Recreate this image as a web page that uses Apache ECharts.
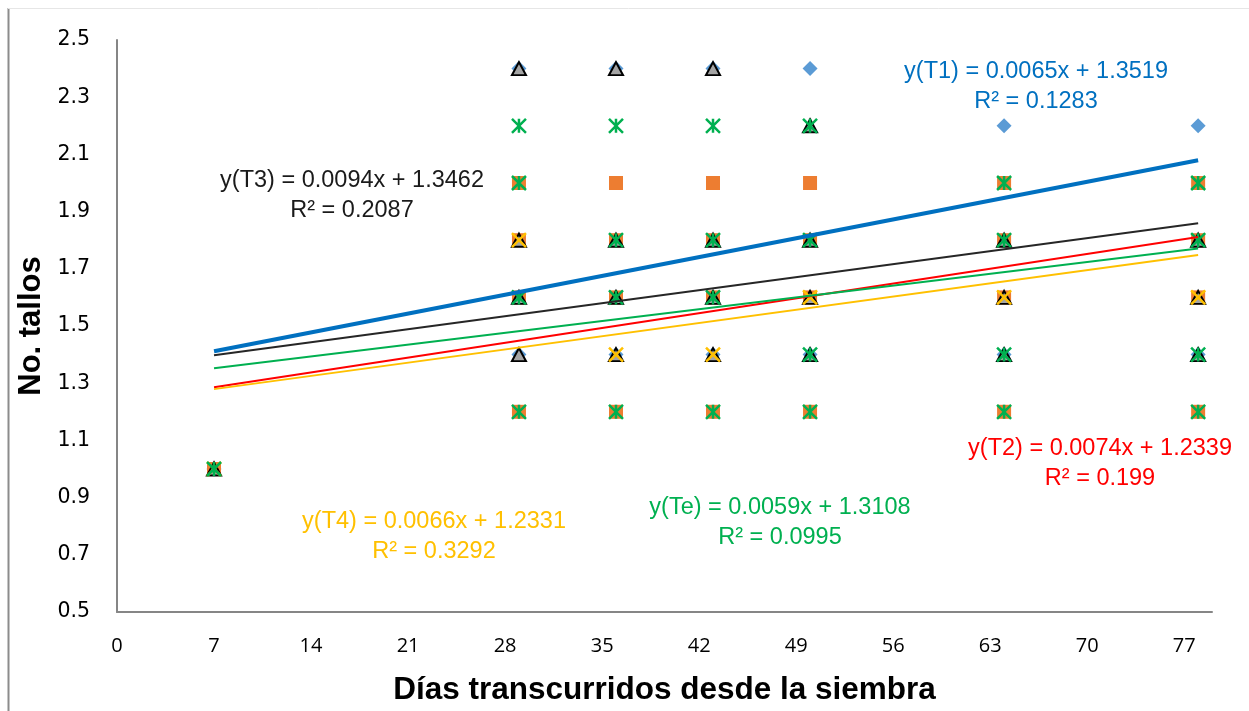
<!DOCTYPE html>
<html>
<head>
<meta charset="utf-8">
<script src="https://cdn.jsdelivr.net/npm/echarts@6/dist/echarts.min.js"></script>
<style>
  html, body { margin: 0; padding: 0; background: #ffffff; }
  #chart { width: 1249px; height: 711px; }
</style>
</head>
<body>
<div id="chart"></div>
<script>
// Sampling days and axis tick labels
const days = [7, 29, 36, 43, 50, 64, 78];
const xTickLabels = [0, 7, 14, 21, 28, 35, 42, 49, 56, 63, 70, 77];
const yTickLabels = ['0.5', '0.7', '0.9', '1.1', '1.3', '1.5', '1.7', '1.9', '2.1', '2.3', '2.5'];

// Observed stems per plant: [day, number of stems]
const t1Points = [[7, 1.0], [29, 2.4], [29, 1.4], [36, 2.4], [36, 1.4], [43, 2.4], [43, 1.4],
  [50, 2.4], [50, 1.4], [64, 2.2], [64, 1.4], [78, 2.2], [78, 1.4]];
const t2Points = [[7, 1.0], [29, 2.0], [29, 1.8], [29, 1.6], [29, 1.2], [36, 2.0], [36, 1.8], [36, 1.6], [36, 1.2],
  [43, 2.0], [43, 1.8], [43, 1.6], [43, 1.2], [50, 2.0], [50, 1.8], [50, 1.6], [50, 1.2],
  [64, 2.0], [64, 1.8], [64, 1.6], [64, 1.2], [78, 2.0], [78, 1.8], [78, 1.6], [78, 1.2]];
const t3Points = [[7, 1.0], [29, 2.4], [29, 1.8], [29, 1.6], [29, 1.4], [36, 2.4], [36, 1.8], [36, 1.6], [36, 1.4],
  [43, 2.4], [43, 1.8], [43, 1.6], [43, 1.4], [50, 2.2], [50, 1.8], [50, 1.6], [50, 1.4],
  [64, 1.8], [64, 1.6], [64, 1.4], [78, 1.8], [78, 1.6], [78, 1.4]];
const t4Points = [[7, 1.0], [29, 1.8], [36, 1.4], [43, 1.4], [50, 1.6], [64, 1.6], [78, 1.6]];
const tePoints = [[7, 1.0], [29, 2.2], [29, 2.0], [29, 1.6], [29, 1.2], [36, 2.2], [36, 1.8], [36, 1.6], [36, 1.2],
  [43, 2.2], [43, 1.8], [43, 1.6], [43, 1.2], [50, 2.2], [50, 1.8], [50, 1.4], [50, 1.2],
  [64, 2.0], [64, 1.8], [64, 1.4], [64, 1.2], [78, 2.0], [78, 1.8], [78, 1.4], [78, 1.2]];

// Linear fits (y = slope * x + intercept) and their R²
const fitNames = ['T1', 'T2', 'T3', 'T4', 'Te'];
const fitSlopes = [0.0065, 0.0074, 0.0094, 0.0066, 0.0059];
const fitIntercepts = [1.3519, 1.2339, 1.3462, 1.2331, 1.3108];
const fitR2 = ['0.1283', '0.199', '0.2087', '0.3292', '0.0995'];

// Styling for each fit: line colour/width, label colour and label anchor (px)
const fitStyle = {
  T1: { line: '#262626', width: 2, text: '#0070C0', at: [1036, 72] },
  T2: { line: '#FF0000', width: 2, text: '#FF0000', at: [1100, 449] },
  T3: { line: '#0070C0', width: 4, text: '#1a1a1a', at: [352, 181] },
  T4: { line: '#FFC000', width: 2, text: '#FFC000', at: [434, 522] },
  Te: { line: '#00B050', width: 2, text: '#00B050', at: [780, 508] }
};

const chart = echarts.init(document.getElementById('chart'), null, { renderer: 'canvas' });

const xFirst = days[0];
const xLast = days[days.length - 1];

const fitSeries = fitNames.map((name, i) => ({
  name: 'fit ' + name,
  type: 'line',
  data: [
    [xFirst, fitSlopes[i] * xFirst + fitIntercepts[i]],
    [xLast, fitSlopes[i] * xLast + fitIntercepts[i]]
  ],
  showSymbol: false,
  symbol: 'none',
  silent: true,
  lineStyle: { color: fitStyle[name].line, width: fitStyle[name].width },
  z: 3
}));

const eqFont = '23.5px "Liberation Sans", Arial, sans-serif';
const eqTexts = [];
fitNames.forEach((name, i) => {
  const s = fitStyle[name];
  eqTexts.push({
    type: 'text', x: s.at[0], y: s.at[1], silent: true,
    style: {
      text: 'y(' + name + ') = ' + fitSlopes[i].toFixed(4) + 'x + ' + fitIntercepts[i].toFixed(4),
      fill: s.text, font: eqFont,
      align: 'center', verticalAlign: 'middle', textAlign: 'center', textVerticalAlign: 'middle'
    }
  });
  eqTexts.push({
    type: 'text', x: s.at[0], y: s.at[1] + 30, silent: true,
    style: {
      text: 'R² = ' + fitR2[i],
      fill: s.text, font: eqFont,
      align: 'center', verticalAlign: 'middle', textAlign: 'center', textVerticalAlign: 'middle'
    }
  });
});

const scatterBase = { type: 'scatter', silent: true, emphasis: { disabled: true }, z: 2 };

const option = {
  backgroundColor: '#ffffff',
  animation: false,
  grid: { left: 117, right: 37, top: 40, bottom: 98, containLabel: false },
  xAxis: {
    type: 'value', min: 0, max: 79, interval: 7,
    axisLine: { show: true, lineStyle: { color: '#868686', width: 2 } },
    axisTick: { show: false },
    splitLine: { show: false },
    axisLabel: {
      margin: 24, color: '#000', fontSize: 20, fontFamily: '"Open Sans", sans-serif',
      formatter: v => (xTickLabels.indexOf(Math.round(v)) >= 0 && Math.abs(v - Math.round(v)) < 1e-6) ? String(Math.round(v)) : ''
    },
    name: 'Días transcurridos desde la siembra',
    nameLocation: 'middle', nameGap: 62,
    nameTextStyle: { color: '#000', fontSize: 31.5, fontWeight: 'bold', fontFamily: '"Liberation Sans", Arial, sans-serif' }
  },
  yAxis: {
    type: 'value', min: 0.5, max: 2.5, interval: 0.2,
    axisLine: { show: true, lineStyle: { color: '#868686', width: 2 } },
    axisTick: { show: false },
    splitLine: { show: false },
    axisLabel: {
      margin: 27, color: '#000', fontSize: 20.5, fontFamily: '"DejaVu Sans", sans-serif',
      formatter: v => yTickLabels[Math.round((v - 0.5) / 0.2)] || ''
    },
    name: 'No. tallos',
    nameLocation: 'middle', nameGap: 65, nameRotate: 90,
    nameTextStyle: { color: '#000', fontSize: 31, fontWeight: 'bold', fontFamily: '"Liberation Sans", Arial, sans-serif' }
  },
  graphic: [
    { type: 'line', silent: true, shape: { x1: 8.5, y1: 8, x2: 8.5, y2: 711 }, style: { stroke: '#8c8c8c', lineWidth: 2 } },
    { type: 'line', silent: true, shape: { x1: 8, y1: 8.5, x2: 1249, y2: 8.5 }, style: { stroke: '#e6e6e6', lineWidth: 1 } }
  ].concat(eqTexts),
  series: [
    Object.assign({}, scatterBase, {
      name: 'T1', data: t1Points, symbol: 'diamond', symbolSize: 15,
      itemStyle: { color: '#5B9BD5', opacity: 1 }
    }),
    Object.assign({}, scatterBase, {
      name: 'T2', data: t2Points, symbol: 'rect', symbolSize: 14,
      itemStyle: { color: '#ED7D31', opacity: 1 }
    }),
    Object.assign({}, scatterBase, {
      name: 'T3', data: t3Points, symbol: 'triangle', symbolSize: [14, 13],
      itemStyle: { color: '#A5A5A5', borderColor: '#000000', borderWidth: 2, opacity: 1 }
    }),
    Object.assign({}, scatterBase, {
      name: 'T4', data: t4Points, symbol: 'path://M0,0L10,10M10,0L0,10', symbolSize: 14,
      itemStyle: { color: 'rgba(0,0,0,0)', borderColor: '#FFC000', borderWidth: 2.5, opacity: 1 }
    }),
    Object.assign({}, scatterBase, {
      name: 'Te', data: tePoints, symbol: 'path://M0,0L10,10M10,0L0,10M5,0L5,10', symbolSize: 14,
      itemStyle: { color: 'rgba(0,0,0,0)', borderColor: '#00B050', borderWidth: 2.5, opacity: 1 }
    })
  ].concat(fitSeries)
};

chart.setOption(option);
</script>
</body>
</html>
